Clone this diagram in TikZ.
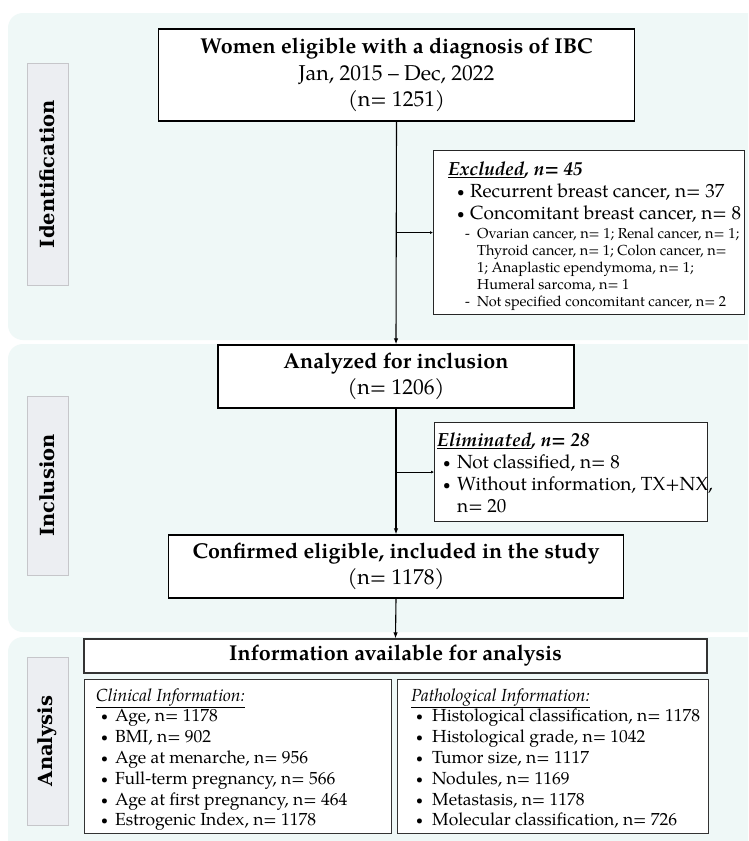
\documentclass[tikz,border=0pt]{standalone}
\usepackage{fontspec}
\setmainfont{TeX Gyre Pagella}
\newfontfamily\labelfont{DejaVu Serif}
\usetikzlibrary{arrows.meta}
\definecolor{panelbg}{HTML}{EFF8F7}
\definecolor{labelbg}{HTML}{ECEEF2}
\definecolor{labeledge}{HTML}{C6C6CA}
\definecolor{infoedge}{HTML}{333333}
\newcommand{\smallbul}{\raisebox{0.1ex}{\scalebox{0.7}{\textbullet}}}
\newcommand{\bitem}[3]{\hspace*{#1}\makebox[#2][l]{\smallbul}#3}
\newcommand{\ditem}[3]{\hspace*{#1}\makebox[#2][l]{-}#3}
\tikzset{
  panel/.style={fill=panelbg, draw=none, rounded corners=15pt},
  sidelabel/.style={fill=labelbg, draw=labeledge, line width=0.9pt, rotate=90,
    inner sep=0, font=\labelfont\bfseries\fontsize{19.5}{22}\selectfont, minimum height=41pt},
  mainbox/.style={draw=black, line width=1.4pt, fill=white, inner sep=0, align=center,
    font=\fontsize{21.5}{26.5}\selectfont},
  sidebox/.style={draw=black!85, line width=1.2pt, fill=white, inner sep=0, anchor=north west},
  infobox/.style={draw=infoedge, line width=1.2pt, fill=white, inner sep=0},
  txt/.style={anchor=base west, inner sep=0},
  conn/.style={line width=1.1pt, -{Latex[length=6pt,width=4.5pt]}},
  branch/.style={line width=1.1pt, -{Latex[length=3pt,width=3pt]}}
}
\begin{document}
\begin{tikzpicture}[x=1pt,y=-1pt]
\useasboundingbox (0,0) rectangle (748,841);
\clip (0,0) rectangle (748,841);
\fill[white] (0,0) rectangle (748,841);
% panels
\fill[panel] (8,13) rectangle (775,340);
\fill[panel] (8,344) rectangle (775,632);
\fill[panel] (8,637) rectangle (775,870);
% side labels
\node[sidelabel, minimum width=222pt] (lid) at (47.5,174) {Identification};
\node[sidelabel, minimum width=179pt] (lin) at (47.5,485.5) {Inclusion};
\node[sidelabel, minimum width=168pt] (lan) at (47.5,741) {Analysis};
% main boxes
\node[mainbox, minimum width=476pt, minimum height=92pt] (women) at (396.5,75)
  {\textbf{Women eligible with a diagnosis of IBC}\\Jan, 2015 -- Dec, 2022\\(n= 1251)};
\node[mainbox, minimum width=356pt, minimum height=63pt] (anal) at (396,376.5)
  {\textbf{Analyzed for inclusion}\\(n= 1206)};
\node[mainbox, minimum width=455pt, minimum height=63pt] (conf) at (396,566.5)
  {\textbf{Confirmed eligible, included in the study}\\(n= 1178)};
% excluded
\node[sidebox, minimum width=311pt, minimum height=164pt] (excl) at (433,150) {};
\node[txt] (excltxt) at (448,175) {\begin{minipage}[t]{320pt}\setlength{\parindent}{0pt}%
\fontsize{19}{22}\selectfont
\textbf{\textit{\underline{Excluded}, n= 45}}\par
\bitem{9pt}{13pt}{Recurrent breast cancer, n= 37}\par
\bitem{9pt}{13pt}{Concomitant breast cancer, n= 8}\par
\fontsize{14.5}{17}\selectfont
\vspace{2pt}
\ditem{17pt}{12pt}{Ovarian cancer, n= 1; Renal cancer, n= 1;}\par
\hspace*{29pt}Thyroid cancer, n= 1; Colon cancer, n=\par
\hspace*{29pt}1; Anaplastic ependymoma, n= 1;\par
\hspace*{29pt}Humeral sarcoma, n= 1\par
\ditem{17pt}{12pt}{Not specified concomitant cancer, n= 2}
\end{minipage}};
% eliminated
\node[sidebox, minimum width=273pt, minimum height=99pt] (elim) at (434,422) {};
\node[txt] (elimtxt) at (437,446) {\begin{minipage}[t]{300pt}\setlength{\parindent}{0pt}%
\fontsize{19}{22}\selectfont
\textbf{\textit{\underline{Eliminated}, n= 28}}\par
\bitem{6pt}{14pt}{Not classified, n= 8}\par
\bitem{6pt}{14pt}{Without information, TX+NX,}\par
\hspace*{20pt}n= 20
\end{minipage}};
% analysis
\node[infobox, minimum width=623pt, minimum height=34pt, font=\bfseries\fontsize{21.5}{26}\selectfont] (info) at (395.5,656) {Information available for analysis};
\node[infobox, anchor=north west, minimum width=307pt, minimum height=154pt] (clin) at (84,679) {};
\node[infobox, anchor=north west, minimum width=311pt, minimum height=154pt] (path) at (397,679) {};
\node[txt] (clintxt) at (96,701) {\begin{minipage}[t]{300pt}\setlength{\parindent}{0pt}%
\fontsize{17.5}{20.8}\selectfont
\underline{\textit{Clinical Information:}}\par
\bitem{5pt}{14pt}{Age, n= 1178}\par
\bitem{5pt}{14pt}{BMI, n= 902}\par
\bitem{5pt}{14pt}{Age at menarche, n= 956}\par
\bitem{5pt}{14pt}{Full-term pregnancy, n= 566}\par
\bitem{5pt}{14pt}{Age at first pregnancy, n= 464}\par
\bitem{5pt}{14pt}{Estrogenic Index, n= 1178}
\end{minipage}};
\node[txt] (pathtxt) at (411,701) {\begin{minipage}[t]{320pt}\setlength{\parindent}{0pt}%
\fontsize{17.5}{20.8}\selectfont
\underline{\textit{Pathological Information:}}\par
\bitem{5pt}{16pt}{Histological classification, n= 1178}\par
\bitem{5pt}{16pt}{Histological grade, n= 1042}\par
\bitem{5pt}{16pt}{Tumor size, n= 1117}\par
\bitem{5pt}{16pt}{Nodules, n= 1169}\par
\bitem{5pt}{16pt}{Metastasis, n= 1178}\par
\bitem{5pt}{16pt}{Molecular classification, n= 726}
\end{minipage}};
% connectors
\draw[conn] (women.south) -- (anal.north);
\draw[branch] (women.south |- excl.west) -- (excl.west);
\draw[conn] (anal.south) -- (conf.north);
\draw[branch] (anal.south |- elim.west) -- (elim.west);
\draw[conn] (conf.south) -- (info.north);
\end{tikzpicture}
\end{document}
